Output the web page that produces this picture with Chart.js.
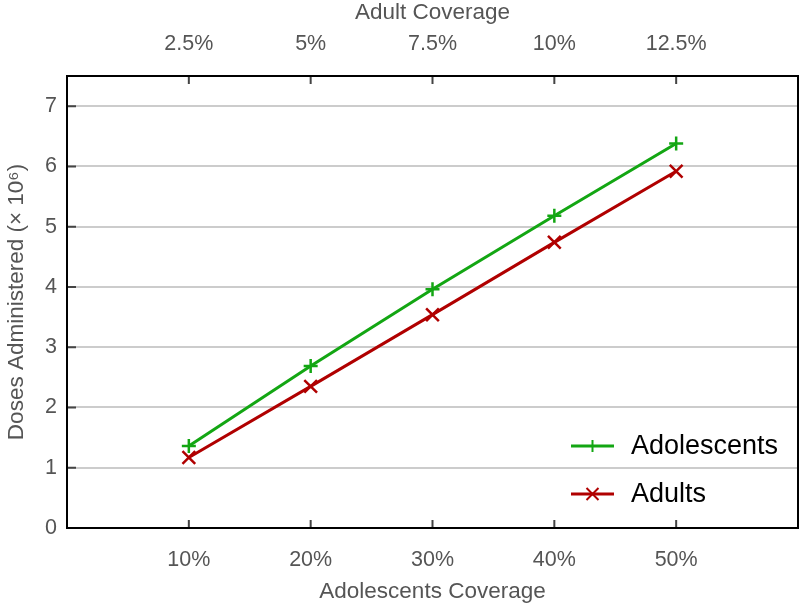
<!DOCTYPE html>
<html>
<head>
<meta charset="utf-8">
<script src="https://cdn.jsdelivr.net/npm/chart.js@4"></script>
<style>
  body { margin: 0; background: #fff; }
  canvas { display: block; }
</style>
</head>
<body>
<canvas id="chart" width="800" height="605"></canvas>
<script>
// data
const adolescentCoverage = [10, 20, 30, 40, 50];
const adultCoverage = [2.5, 5, 7.5, 10, 12.5];
const adolescentDoses = [1.36, 2.69, 3.96, 5.18, 6.38];
const adultDoses = [1.17, 2.35, 3.54, 4.74, 5.92];
const yTicks = [0, 1, 2, 3, 4, 5, 6, 7];

const green = '#13a613';
const red = '#b00000';
const grey = '#555555';
const font = '"Liberation Sans", Arial, sans-serif';
const tickFont = { family: font, size: 21.5 };
const titleFont = { family: font, size: 22.5 };

function toPoints(xs, ys) {
    return xs.map((x, i) => ({ x: x, y: ys[i] }));
}

// frame, inward ticks and legend
const decorations = {
    id: 'decorations',
    afterDraw(chart) {
        const ctx = chart.ctx;
        const a = chart.chartArea;
        const sx = chart.scales.x, sx2 = chart.scales.x2, sy = chart.scales.y;
        ctx.save();
        ctx.strokeStyle = '#444';
        ctx.lineWidth = 2;
        ctx.beginPath();
        sx.ticks.forEach(t => {
            const p = sx.getPixelForValue(t.value);
            ctx.moveTo(p, a.bottom); ctx.lineTo(p, a.bottom - 8);
        });
        sx2.ticks.forEach(t => {
            const p = sx2.getPixelForValue(t.value);
            ctx.moveTo(p, a.top); ctx.lineTo(p, a.top + 8);
        });
        sy.ticks.forEach(t => {
            const p = sy.getPixelForValue(t.value);
            ctx.moveTo(a.left, p); ctx.lineTo(a.left + 9, p);
        });
        ctx.stroke();

        ctx.strokeStyle = '#000';
        ctx.lineWidth = 2;
        ctx.strokeRect(a.left, a.top, a.right - a.left, a.bottom - a.top);

        // legend
        ctx.font = '27px ' + font;
        ctx.textAlign = 'left';
        ctx.textBaseline = 'middle';
        chart.data.datasets.forEach((ds, i) => {
            const y = a.bottom - 82 + i * 48;
            const x0 = a.right - 227, x1 = a.right - 184, xm = (x0 + x1) / 2;
            ctx.strokeStyle = ds.borderColor;
            ctx.lineWidth = 3;
            ctx.beginPath();
            ctx.moveTo(x0, y); ctx.lineTo(x1, y);
            ctx.stroke();
            ctx.lineWidth = 2;
            ctx.beginPath();
            if (ds.pointStyle === 'cross') {
                ctx.moveTo(xm, y - 6); ctx.lineTo(xm, y + 6);
            } else {
                ctx.moveTo(xm - 6, y - 6); ctx.lineTo(xm + 6, y + 6);
                ctx.moveTo(xm - 6, y + 6); ctx.lineTo(xm + 6, y - 6);
            }
            ctx.stroke();
            ctx.fillStyle = '#000';
            ctx.fillText(ds.label, a.right - 167, y + 1);
        });
        ctx.restore();
    }
};

function fitX(h) {
    return s => { s.height = h; s.paddingLeft = 0; s.paddingRight = 0; };
}

new Chart(document.getElementById('chart'), {
    type: 'line',
    data: {
        datasets: [
            {
                label: 'Adolescents',
                data: toPoints(adolescentCoverage, adolescentDoses),
                borderColor: green,
                backgroundColor: green,
                borderWidth: 3,
                pointStyle: 'cross',
                pointRadius: 7,
                pointBorderWidth: 2.5,
            },
            {
                label: 'Adults',
                data: toPoints(adolescentCoverage, adultDoses),
                borderColor: red,
                backgroundColor: red,
                borderWidth: 3,
                pointStyle: 'crossRot',
                pointRadius: 9,
                pointBorderWidth: 2.5,
            },
        ],
    },
    options: {
        responsive: false,
        animation: false,
        layout: { autoPadding: false, padding: { right: 2 } },
        plugins: {
            legend: { display: false },
            tooltip: { enabled: false },
        },
        scales: {
            x: {
                type: 'linear',
                position: 'bottom',
                min: 0,
                max: 60,
                afterBuildTicks: s => { s.ticks = adolescentCoverage.map(v => ({ value: v })); },
                afterFit: fitX(77),
                grid: { display: false },
                border: { display: false },
                ticks: {
                    padding: 11,
                    color: grey,
                    font: tickFont,
                    maxRotation: 0,
                    callback: v => v + '%',
                },
                title: {
                    display: true,
                    text: 'Adolescents Coverage',
                    color: grey,
                    font: titleFont,
                    padding: { top: 0, bottom: 0 },
                },
            },
            x2: {
                type: 'linear',
                position: 'top',
                min: 0,
                max: 15,
                afterBuildTicks: s => { s.ticks = adultCoverage.map(v => ({ value: v })); },
                afterFit: fitX(76),
                grid: { display: false },
                border: { display: false },
                ticks: {
                    padding: 11,
                    color: grey,
                    font: tickFont,
                    maxRotation: 0,
                    callback: v => v + '%',
                },
                title: {
                    display: true,
                    text: 'Adult Coverage',
                    color: grey,
                    font: titleFont,
                    padding: { top: -1, bottom: 0 },
                },
            },
            y: {
                min: 0,
                max: 7.5,
                afterBuildTicks: s => { s.ticks = yTicks.map(v => ({ value: v })); },
                afterFit: s => { s.width = 67; s.paddingTop = 0; s.paddingBottom = 0; },
                grid: { color: '#cccccc', lineWidth: 2, drawTicks: false },
                border: { display: false },
                ticks: {
                    padding: 10,
                    color: grey,
                    font: tickFont,
                },
                title: {
                    display: true,
                    text: 'Doses Administered (× 10⁶)',
                    color: grey,
                    font: titleFont,
                    padding: { top: 3, bottom: 0 },
                },
            },
        },
    },
    plugins: [decorations],
});
</script>
</body>
</html>
